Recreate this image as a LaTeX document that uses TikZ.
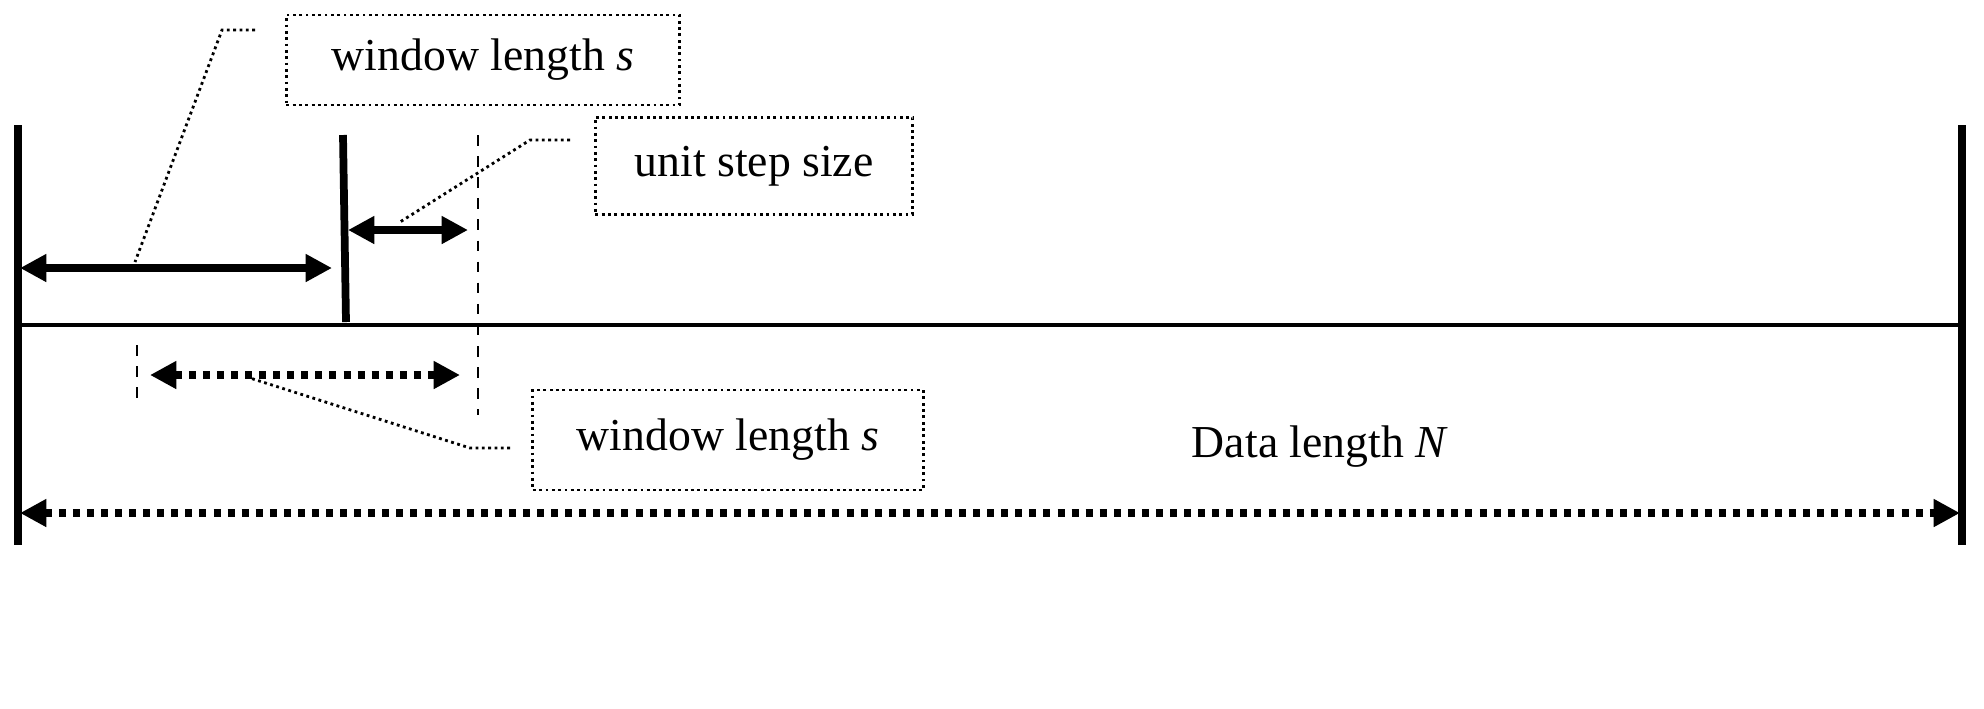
\documentclass[tikz,border=0pt]{standalone}
\usepackage{fontspec}
\setmainfont{Liberation Serif}
\usetikzlibrary{arrows.meta}
\begin{document}
\begin{tikzpicture}[x=0.01cm,y=-0.01cm,
  lbl/.style={draw,densely dotted,thick,minimum height=0.9cm,inner sep=0pt,font=\fontsize{13}{15}\selectfont},
  leader/.style={densely dotted,thick},
  bar/.style={line width=2.2pt},
  arr/.style={line width=2pt,{Triangle[length=7.5pt,width=7.5pt]}-{Triangle[length=7.5pt,width=7.5pt]}},
  darr/.style={arr,dotted}]
\useasboundingbox (0,0) rectangle (1984,708);
\coordinate (L1) at (18,125); \coordinate (L2) at (18,545);
\coordinate (R1) at (1962,125); \coordinate (R2) at (1962,545);
\draw[bar] (L1) -- (L2);
\draw[bar] (R1) -- (R2);
\coordinate (H1) at (18,325); \coordinate (H2) at (1962,325);
\draw[line width=1pt] (H1) -- (H2);
\coordinate (S1) at (343,135); \coordinate (S2) at (346,322);
\draw[bar] (S1) -- (S2);
\coordinate (D1) at (478,135); \coordinate (D2) at (478,415);
\draw[thick,dashed] (D1) -- (D2);
\coordinate (E1) at (137,345); \coordinate (E2) at (137,400);
\draw[thick,dashed] (E1) -- (E2);
\coordinate (A1) at (20,268); \coordinate (A2) at (332,268);
\draw[arr] (A1) -- (A2);
\coordinate (B1) at (348,230); \coordinate (B2) at (468,230);
\draw[arr] (B1) -- (B2);
\coordinate (C1) at (150,375); \coordinate (C2) at (460,375);
\draw[darr] (C1) -- (C2);
\coordinate (F1) at (20,513); \coordinate (F2) at (1960,513);
\draw[darr] (F1) -- (F2);
\node[lbl,minimum width=3.93cm] (w1) at (483,60) {window length \textit{s}};
\node[lbl,minimum width=3.17cm,minimum height=0.97cm] (u) at (754,166) {unit step size};
\node[lbl,minimum width=3.9cm,minimum height=1cm] (w2) at (728,440) {window length \textit{s}};
\node[font=\fontsize{13}{15}\selectfont] (N) at (1320,447) {Data length \textit{N}};
\coordinate (p1) at (255,30); \coordinate (q1) at (222,30); \coordinate (r1) at (135,262);
\draw[leader] (p1) -- (q1) -- (r1);
\coordinate (p2) at (570,140); \coordinate (q2) at (530,140); \coordinate (r2) at (400,222);
\draw[leader] (p2) -- (q2) -- (r2);
\coordinate (p3) at (510,448); \coordinate (q3) at (470,448); \coordinate (r3) at (250,378);
\draw[leader] (p3) -- (q3) -- (r3);
\end{tikzpicture}
\end{document}
